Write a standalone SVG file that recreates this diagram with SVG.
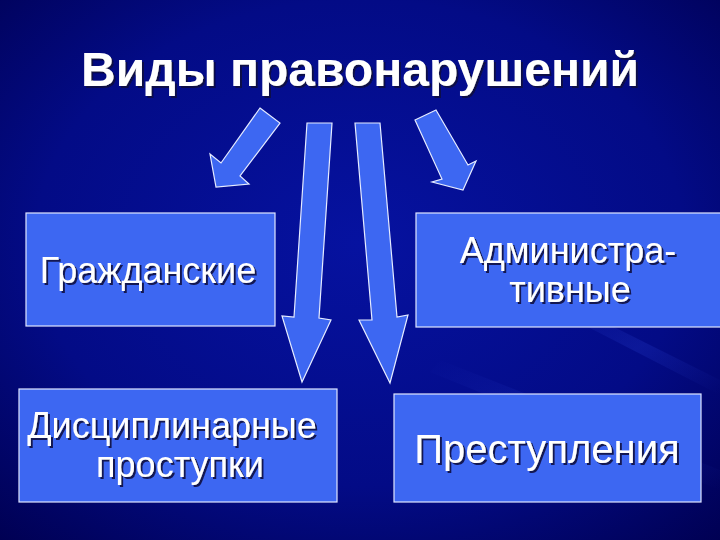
<svg xmlns="http://www.w3.org/2000/svg" width="720" height="540" viewBox="0 0 720 540">
  <defs>
    <radialGradient id="bg" cx="0.5" cy="0.45" r="0.75">
      <stop offset="0" stop-color="#0612a0"/>
      <stop offset="0.6" stop-color="#030b86"/>
      <stop offset="1" stop-color="#000052"/>
    </radialGradient>
    <linearGradient id="streak" x1="0" y1="0" x2="1" y2="1">
      <stop offset="0" stop-color="#4060ff" stop-opacity="0"/>
      <stop offset="0.5" stop-color="#4060ff" stop-opacity="0.15"/>
      <stop offset="1" stop-color="#4060ff" stop-opacity="0"/>
    </linearGradient>
    <filter id="shadow" x="-10%" y="-20%" width="120%" height="150%">
      <feDropShadow dx="2" dy="2" stdDeviation="0.6" flood-color="#0c0e40" flood-opacity="0.9"/>
    </filter>
  </defs>
  <style>
    .box { fill: #3d67f2; stroke: #dfe6ff; stroke-width: 1.2; }
    .arrow { fill: #3d67f2; stroke: #e6ecff; stroke-width: 1.2; stroke-linejoin: miter; }
    .lbl { font-family: "Liberation Sans", Arial, sans-serif; font-size: 36px; fill: #ffffff; text-anchor: middle; filter: url(#shadow); }
    .title { font-family: "Liberation Sans", Arial, sans-serif; font-size: 48px; font-weight: bold; fill: #ffffff; text-anchor: middle; filter: url(#shadow); }
  </style>
  <rect x="0" y="0" width="720" height="540" fill="url(#bg)"/>
  <g id="background-streaks">
    <path d="M440 360 L720 470 L720 490 L430 372 Z" fill="url(#streak)"/>
    <path d="M560 300 L720 380 L720 395 L555 310 Z" fill="url(#streak)"/>
  </g>

  <g id="title">
    <text class="title" x="360" y="86">Виды правонарушений</text>
  </g>

  <g id="connectors">
    <polygon class="arrow" points="260,108 280,123 240,176 249,184 216,187 210,154 221,163"/>
    <polygon class="arrow" points="307,123 332,123 319,318 331,320 302,382 282,316 294,317"/>
    <polygon class="arrow" points="355,123 380,123 397,317 408,315 390,383 359,320 372,320"/>
    <polygon class="arrow" points="415,120 436,110 468,165 476,161 463,190 432,182 442,179"/>
  </g>

  <g id="node-civil">
    <rect class="box" x="26" y="213" width="249" height="113"/>
    <text class="lbl" x="148" y="283">Гражданские</text>
  </g>

  <g id="node-admin">
    <rect class="box" x="416" y="213" width="310" height="114"/>
    <text class="lbl" x="568" y="263">Администра-</text>
    <text class="lbl" x="570" y="302">тивные</text>
  </g>

  <g id="node-disc">
    <rect class="box" x="19" y="389" width="318" height="113"/>
    <text class="lbl" x="172" y="438">Дисциплинарные</text>
    <text class="lbl" x="180" y="477">проступки</text>
  </g>

  <g id="node-crime">
    <rect class="box" x="394" y="394" width="307" height="108"/>
    <text class="lbl" x="547" y="463" style="font-size:40px">Преступления</text>
  </g>
</svg>
